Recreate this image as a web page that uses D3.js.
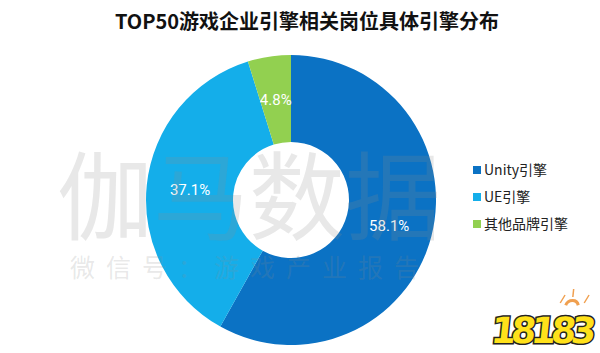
<!DOCTYPE html>
<html>
<head>
<meta charset="utf-8">
<script src="https://cdn.jsdelivr.net/npm/d3@7/dist/d3.min.js"></script>
<style>
  html, body { margin: 0; padding: 0; background: #fff; }
  svg { display: block; font-family: "Noto Sans CJK SC", "Noto Sans", sans-serif; }
</style>
</head>
<body>
<div id="chart"></div>
<script>
// data
const categories = ['Unity引擎', 'UE引擎', '其他品牌引擎'];
const shares = [58.1, 37.1, 4.8];
const colors = ['#0b72c4', '#14aeea', '#92d050'];
const title = 'TOP50游戏企业引擎相关岗位具体引擎分布';

const width = 600, height = 353;
const cx = 291, cy = 200, outerR = 145, innerR = 58;

const svg = d3.select('#chart').append('svg')
    .attr('width', width)
    .attr('height', height);

// title
svg.append('text')
    .attr('x', 307).attr('y', 29)
    .attr('text-anchor', 'middle')
    .attr('font-size', 20)
    .attr('font-weight', 'bold')
    .attr('fill', '#111')
    .text(title);

const rows = categories.map((c, i) => ({ name: c, value: shares[i], color: colors[i] }));

const pie = d3.pie().value(d => d.value).sort(null);
const arc = d3.arc().innerRadius(innerR).outerRadius(outerR);

const g = svg.append('g').attr('transform', `translate(${cx},${cy})`);

g.selectAll('path')
    .data(pie(rows))
    .enter().append('path')
    .attr('d', arc)
    .attr('fill', d => d.data.color);

g.selectAll('.lbl')
    .data(pie(rows))
    .enter().append('text')
    .attr('class', 'lbl')
    .attr('transform', d => `translate(${arc.centroid(d)})`)
    .attr('text-anchor', 'middle')
    .attr('dy', '0.35em')
    .attr('font-size', 15)
    .attr('font-family', 'Roboto, "Noto Sans", sans-serif')
    .attr('fill', '#fff')
    .text(d => d.data.value.toFixed(1) + '%');

// watermark (drawn over the chart, faint)
const wm = svg.append('g').attr('pointer-events', 'none');
wm.append('text')
    .attr('x', 249).attr('y', 232)
    .attr('text-anchor', 'middle')
    .attr('font-size', 96)
    .attr('fill', '#8a8a8a')
    .attr('fill-opacity', 0.2)
    .text('伽马数据');
wm.append('text')
    .attr('x', 250).attr('y', 277)
    .attr('text-anchor', 'middle')
    .attr('font-size', 25)
    .attr('letter-spacing', 11)
    .attr('fill', '#8a8a8a')
    .attr('fill-opacity', 0.2)
    .text('微信号：游戏产业报告');

// legend
const legend = svg.append('g').attr('transform', 'translate(473,166)');
const item = legend.selectAll('g')
    .data(rows)
    .enter().append('g')
    .attr('transform', (d, i) => `translate(0,${i * 27})`);
item.append('rect')
    .attr('width', 8).attr('height', 8)
    .attr('fill', d => d.color);
item.append('text')
    .attr('x', 11).attr('y', 9)
    .attr('font-size', 14)
    .attr('fill', '#222')
    .text(d => d.name);

// site logo, bottom right
const logo = svg.append('g').attr('transform', 'translate(540,343) skewX(-6)');
logo.append('text')
    .attr('text-anchor', 'middle')
    .attr('font-size', 36)
    .attr('font-weight', 'bold')
    .attr('font-family', '"DejaVu Sans", sans-serif')
    .attr('fill', '#ffe11a')
    .attr('stroke', '#222')
    .attr('stroke-width', 3)
    .attr('paint-order', 'stroke')
    .attr('letter-spacing', -5)
    .text('18183');
logo.append('path')
    .attr('d', d3.arc().innerRadius(5).outerRadius(8).startAngle(-1.3).endAngle(1.3)())
    .attr('transform', 'translate(28,-36)')
    .attr('fill', '#f0a050');
logo.append('path')
    .attr('d', 'M16,-40 L20,-48 M28,-46 L28,-54 M40,-40 L44,-48')
    .attr('transform', 'translate(0,0)')
    .attr('stroke', '#f0a050')
    .attr('stroke-width', 1.5);
</script>
</body>
</html>
